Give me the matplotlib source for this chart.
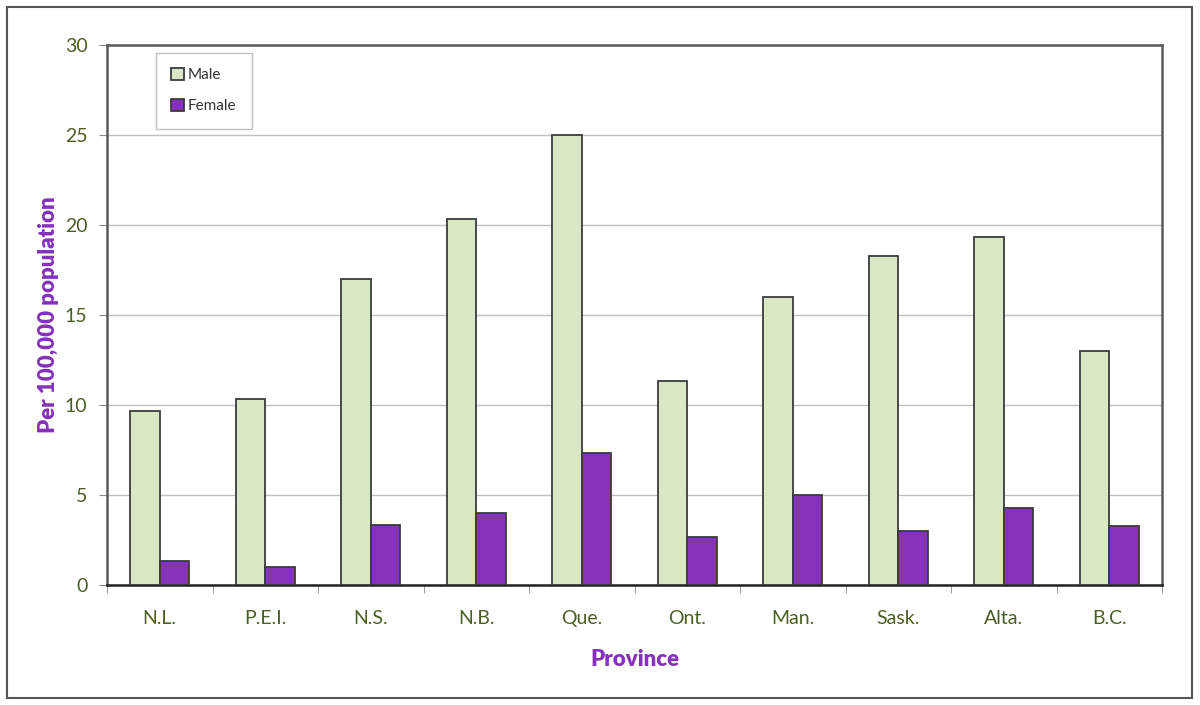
import matplotlib
matplotlib.use("Agg")
import matplotlib.pyplot as plt
import numpy as np
from matplotlib.patches import Rectangle

provinces = ["N.L.", "P.E.I.", "N.S.", "N.B.", "Que.", "Ont.", "Man.", "Sask.", "Alta.", "B.C."]
male = [9.67, 10.33, 17.0, 20.33, 25.0, 11.33, 16.0, 18.3, 19.33, 13.0]
female = [1.33, 1.0, 3.33, 4.0, 7.33, 2.67, 5.0, 3.0, 4.3, 3.3]
yticks = [0, 5, 10, 15, 20, 25, 30]

plt.rcParams['font.family'] = ['Lato', 'DejaVu Sans']

fig = plt.figure(figsize=(12, 7.05), dpi=100)
ax = fig.add_axes([107/1200, 1-585/705, (1162-107)/1200, (585-45)/705])

x = np.arange(len(provinces))
w = 0.28
ax.bar(x - w/2, male, w, color="#d9e7c5", edgecolor="#3c3c3c", linewidth=1.3, label="Male", zorder=3)
ax.bar(x + w/2, female, w, color="#8531bb", edgecolor="#3c3c3c", linewidth=1.3, label="Female", zorder=3)

ax.set_xlim(-0.5, len(provinces) - 0.5)
ax.set_ylim(0, 30)
ax.set_yticks(yticks)
ax.set_yticklabels([str(v) for v in yticks])
ax.yaxis.grid(True, color="#c0c0c0", linewidth=1, zorder=0)
ax.set_axisbelow(True)

ax.set_xticks(x)
ax.set_xticklabels(provinces)
ax.set_xticks(np.arange(-0.5, len(provinces)), minor=True)
ax.tick_params(axis='x', which='major', length=0, pad=18, labelsize=14, labelcolor="#4b5f25")
ax.tick_params(axis='x', which='minor', length=6, color="#888888", direction='out')
ax.tick_params(axis='y', length=6, color="#888888", labelsize=14, labelcolor="#4b5f25", pad=8)

for s in ['top', 'right', 'left']:
    ax.spines[s].set_color("#5a5a5a")
    ax.spines[s].set_linewidth(1.8)
ax.spines['bottom'].set_color("#222222")
ax.spines['bottom'].set_linewidth(1.8)

ax.set_ylabel("Per 100,000 population", fontsize=16, fontweight='heavy', color="#8531bb", labelpad=4)
ax.set_xlabel("Province", fontsize=16, fontweight='heavy', color="#8531bb", labelpad=16)

leg = ax.legend(loc='upper left', bbox_to_anchor=(49/1055, 532/540), fontsize=11,
                frameon=True, fancybox=False, edgecolor="#b0b0b0", handlelength=0.8,
                handleheight=0.8, handletextpad=0.3, labelspacing=1.1, borderpad=1.0,
                borderaxespad=0)
leg.get_frame().set_linewidth(1)
for t in leg.get_texts():
    t.set_color("#333333")

fig.patches.append(Rectangle((7/1200, 7/705), 1185/1200, 691/705, transform=fig.transFigure,
                             fill=False, edgecolor="#555555", linewidth=1.5))

fig.savefig("out.png", dpi=100)
